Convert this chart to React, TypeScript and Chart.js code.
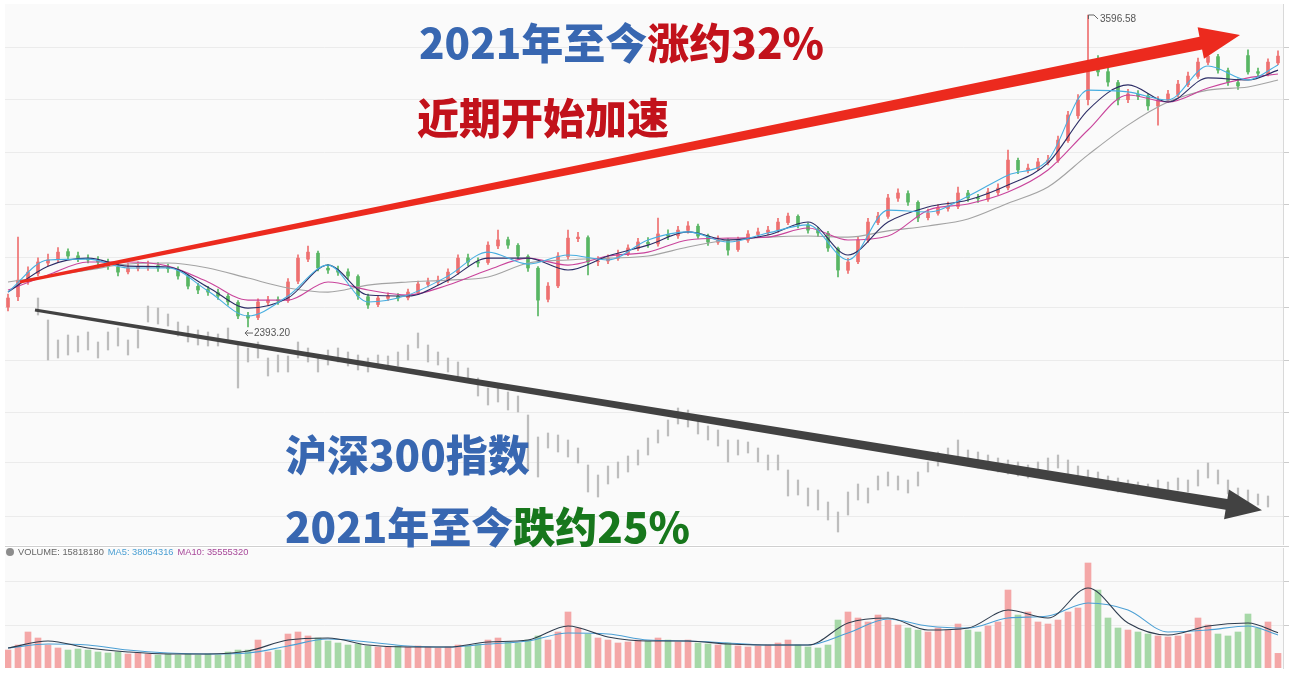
import React, { useEffect, useRef } from "react";
import { Chart, registerables } from "chart.js";

Chart.register(...registerables);

// ---------------- data ----------------
// index price, one candle per slot
const priceOpen = [
  2470, 2510, 2570, 2600, 2640, 2655, 2684, 2668, 2655, 2650,
  2642, 2625, 2606, 2620, 2624, 2630, 2622, 2615, 2588, 2550,
  2538, 2526, 2512, 2488, 2438, 2430, 2488, 2498, 2495, 2570,
  2655, 2678, 2620, 2612, 2606, 2588, 2510, 2480, 2504, 2512,
  2506, 2526, 2558, 2566, 2572, 2603, 2660, 2645, 2642, 2706,
  2730, 2708, 2665, 2620, 2500, 2552, 2665, 2734, 2738, 2645,
  2648, 2658, 2676, 2696, 2720, 2714, 2750, 2745, 2766, 2782,
  2745, 2720, 2728, 2692, 2728, 2750, 2758, 2766, 2796, 2820,
  2786, 2768, 2755, 2696, 2612, 2645, 2728, 2796, 2820, 2890,
  2908, 2874, 2815, 2832, 2850, 2858, 2910, 2892, 2886, 2912,
  2930, 3036, 2998, 3004, 3028, 3036, 3112, 3208, 3270, 3412,
  3378, 3336, 3270, 3290, 3284, 3245, 3268, 3290, 3328, 3360,
  3414, 3436, 3382, 3336, 3440, 3378, 3370, 3412,
];
const priceHigh = [
  2520, 2740, 2625, 2660, 2675, 2700, 2695, 2682, 2672, 2665,
  2655, 2640, 2640, 2645, 2648, 2642, 2636, 2625, 2595, 2562,
  2550, 2540, 2520, 2495, 2450, 2502, 2512, 2510, 2580, 2672,
  2705, 2686, 2635, 2628, 2618, 2595, 2520, 2515, 2525, 2522,
  2540, 2570, 2582, 2590, 2618, 2672, 2675, 2660, 2722, 2767,
  2740, 2715, 2672, 2626, 2565, 2680, 2767, 2758, 2745, 2665,
  2672, 2690, 2710, 2735, 2738, 2813, 2768, 2782, 2800, 2790,
  2752, 2745, 2735, 2740, 2765, 2775, 2782, 2812, 2833, 2826,
  2795, 2778, 2762, 2702, 2658, 2742, 2812, 2836, 2905, 2926,
  2918, 2880, 2848, 2865, 2875, 2933, 2920, 2905, 2928, 2945,
  3076, 3045, 3022, 3044, 3055, 3130, 3225, 3290, 3596.58, 3440,
  3392, 3345, 3310, 3305, 3292, 3282, 3306, 3345, 3376, 3430,
  3462, 3445, 3392, 3350, 3462, 3392, 3428, 3458,
];
const priceLow = [
  2455, 2495, 2558, 2590, 2628, 2645, 2655, 2645, 2640, 2630,
  2615, 2590, 2598, 2610, 2612, 2608, 2604, 2578, 2540, 2522,
  2515, 2500, 2478, 2425, 2393.2, 2422, 2478, 2480, 2488, 2560,
  2645, 2610, 2600, 2592, 2578, 2500, 2465, 2472, 2495, 2494,
  2498, 2518, 2548, 2556, 2565, 2596, 2630, 2625, 2635, 2695,
  2696, 2655, 2608, 2436, 2490, 2545, 2655, 2722, 2594, 2630,
  2638, 2650, 2668, 2688, 2700, 2705, 2730, 2735, 2755, 2735,
  2708, 2712, 2670, 2685, 2720, 2742, 2748, 2758, 2788, 2775,
  2755, 2742, 2685, 2586, 2600, 2638, 2720, 2788, 2812, 2878,
  2862, 2800, 2806, 2825, 2840, 2850, 2878, 2874, 2878, 2902,
  2922, 2985, 2988, 2996, 3018, 3028, 3105, 3198, 3250, 3362,
  3322, 3250, 3258, 3270, 3230, 3172, 3260, 3282, 3320, 3352,
  3405, 3372, 3325, 3310, 3368, 3358, 3362, 3405,
];
const priceClose = [
  2505, 2574, 2605, 2644, 2652, 2682, 2667, 2659, 2652, 2644,
  2628, 2605, 2621, 2625, 2628, 2621, 2618, 2590, 2551, 2536,
  2528, 2513, 2490, 2436, 2428, 2490, 2497, 2494, 2567, 2659,
  2682, 2621, 2613, 2605, 2590, 2513, 2478, 2505, 2513, 2505,
  2528, 2559, 2567, 2574, 2605, 2659, 2644, 2640, 2709, 2729,
  2709, 2667, 2621, 2497, 2551, 2667, 2736, 2740, 2644, 2648,
  2659, 2675, 2698, 2721, 2713, 2752, 2744, 2767, 2783, 2744,
  2721, 2729, 2690, 2729, 2752, 2760, 2767, 2798, 2821, 2787,
  2767, 2756, 2698, 2613, 2644, 2729, 2798, 2821, 2891, 2910,
  2875, 2814, 2833, 2852, 2860, 2910, 2891, 2888, 2914, 2929,
  3037, 2999, 3006, 3030, 3037, 3114, 3211, 3269, 3415, 3377,
  3338, 3269, 3292, 3284, 3246, 3269, 3292, 3330, 3361, 3415,
  3438, 3384, 3338, 3323, 3377, 3372, 3415, 3438,
];

// price moving averages, sampled at these candle slots
const maSlots = [0, 4, 8, 12, 16, 20, 24, 28, 32, 36, 40, 44, 48, 52, 56, 60, 64, 68, 72, 76, 80, 84, 88, 92, 96, 100, 104, 108, 112, 116, 120, 124, 127];
const ma5 = [2528, 2652, 2655, 2621, 2621, 2532, 2436, 2513, 2632, 2490, 2517, 2590, 2682, 2636, 2671, 2652, 2729, 2760, 2721, 2756, 2787, 2652, 2844, 2837, 2898, 2979, 3037, 3307, 3300, 3269, 3400, 3346, 3404];
const ma10 = [2528, 2628, 2659, 2628, 2625, 2547, 2466, 2505, 2632, 2517, 2513, 2574, 2659, 2659, 2613, 2667, 2709, 2760, 2729, 2748, 2798, 2671, 2798, 2856, 2883, 2941, 3026, 3230, 3327, 3261, 3354, 3346, 3384];
const ma20 = [2536, 2594, 2644, 2644, 2628, 2567, 2497, 2497, 2567, 2536, 2517, 2555, 2613, 2659, 2632, 2667, 2682, 2729, 2736, 2740, 2775, 2729, 2744, 2844, 2868, 2914, 2999, 3153, 3288, 3261, 3315, 3354, 3369];
const ma120 = [2567, 2590, 2613, 2636, 2640, 2621, 2582, 2544, 2528, 2555, 2567, 2574, 2586, 2640, 2652, 2659, 2667, 2702, 2729, 2740, 2744, 2740, 2764, 2783, 2810, 2871, 2933, 3057, 3172, 3261, 3307, 3319, 3346];

// CSI 300 (grey bars), low / high per slot
const csiLow = [
  null, null, null, 5720, 5180, 5204, 5240, 5276, 5300, 5204,
  5300, 5348, 5240, 5324, 5636, 5612, 5588, 5468, 5396, 5360,
  5348, 5348, 5396, 4844, 5156, 5204, 4988, 5036, 5036, 5204,
  5156, 5036, 5120, 5156, 5108, 5060, 5036, 5084, 5060, 5108,
  5180, 5324, 5156, 5120, 5036, 4988, 4940, 4748, 4640, 4676,
  4580, 4556, 3860, 3776, 4124, 4076, 4016, 3944, 3596, 3536,
  3692, 3764, 3836, 3920, 4040, 4184, 4268, 4412, 4376, 4292,
  4220, 4148, 3956, 4040, 4064, 3956, 3860, 3860, 3548, 3560,
  3428, 3380, 3260, 3116, 3320, 3500, 3464, 3620, 3668, 3620,
  3584, 3668, 3836, 3908, 3980, 4028, 3908, 3884, 3860, 3836,
  3812, 3788, 3764, 3812, 3860, 3884, 3812, 3740, 3692, 3668,
  3620, 3596, 3584, 3560, 3548, 3572, 3572, 3620, 3596, 3668,
  3764, 3692, 3572, 3500, 3476, 3440, 3416, null,
];
const csiHigh = [
  null, null, null, 5924, 5660, 5420, 5480, 5468, 5516, 5396,
  5516, 5564, 5420, 5540, 5828, 5804, 5732, 5636, 5588, 5540,
  5516, 5492, 5564, 5360, 5324, 5396, 5204, 5240, 5228, 5396,
  5324, 5240, 5300, 5324, 5276, 5240, 5204, 5240, 5228, 5276,
  5360, 5504, 5360, 5276, 5204, 5156, 5084, 4964, 4844, 4844,
  4796, 4748, 4520, 4256, 4304, 4280, 4220, 4124, 3920, 3800,
  3908, 3956, 4028, 4100, 4244, 4340, 4460, 4604, 4580, 4484,
  4388, 4340, 4220, 4220, 4196, 4124, 4040, 4040, 3860, 3740,
  3644, 3620, 3476, 3356, 3596, 3692, 3644, 3788, 3836, 3788,
  3740, 3836, 3956, 4076, 4124, 4220, 4100, 4076, 4040, 4004,
  3980, 3956, 3920, 3956, 4004, 4040, 3980, 3908, 3860, 3836,
  3788, 3764, 3740, 3716, 3692, 3740, 3716, 3764, 3740, 3860,
  3944, 3860, 3740, 3644, 3620, 3572, 3548, null,
];

// volume, millions
const volume = [
  19.4, 24.8, 38.9, 32.4, 24.8, 21.6, 19.4, 20.5, 19.4, 17.3,
  16.2, 17.3, 15.1, 16.2, 15.1, 14.0, 15.1, 14.0, 15.1, 14.0,
  15.1, 14.0, 17.3, 19.4, 19.4, 30.2, 17.3, 19.4, 36.7, 38.9,
  34.6, 32.4, 29.2, 27.0, 24.8, 25.9, 23.8, 22.7, 22.7, 23.8,
  22.7, 23.8, 22.7, 21.6, 22.7, 24.8, 23.8, 25.9, 30.2, 32.4,
  28.1, 27.0, 30.2, 34.6, 30.2, 38.9, 60.5, 43.2, 36.7, 32.4,
  30.2, 27.0, 28.1, 30.2, 29.2, 32.4, 30.2, 28.1, 30.2, 27.0,
  25.9, 24.8, 27.0, 23.8, 22.7, 23.8, 24.8, 27.0, 30.2, 24.8,
  22.7, 21.6, 24.8, 51.8, 60.5, 54.0, 49.7, 57.2, 51.8, 46.4,
  43.2, 41.0, 38.9, 43.2, 41.0, 47.5, 41.0, 38.9, 45.4, 49.7,
  84.2, 57.2, 60.5, 49.7, 47.5, 51.8, 60.5, 64.8, 113.4, 84.2,
  54.0, 43.2, 41.0, 38.9, 36.7, 34.6, 33.5, 34.6, 36.7, 54.0,
  46.4, 36.7, 34.6, 38.9, 58.3, 43.2, 49.7, 15.8,
];
const volMa5 = [21.6, 29.2, 21.6, 17.3, 15.1, 15.1, 18.4, 30.2, 32.4, 24.8, 22.7, 22.7, 28.1, 30.2, 45.4, 33.5, 29.2, 29.2, 25.9, 24.8, 24.8, 48.6, 54.0, 41.0, 43.2, 62.6, 54.0, 86.4, 48.6, 35.6, 45.4, 48.6, 38.1];
const volMa10 = [21.6, 25.9, 24.8, 19.4, 16.2, 15.1, 16.2, 23.8, 31.3, 28.1, 23.8, 22.7, 25.9, 29.2, 37.8, 36.7, 30.2, 29.2, 27.0, 24.8, 24.8, 37.8, 52.9, 45.4, 43.2, 54.0, 56.2, 70.2, 62.6, 38.9, 41.0, 45.4, 35.6];

// horizontal grid levels (price axis / volume axis)
const priceGrid = [1664, 1869, 2065, 2266, 2467, 2663, 2864, 3068, 3269, 3473];
const volumeGrid = [46.4, 92.9];

// header texts
const volumeHeader = { volume: "15818180", ma5: "38054316", ma10: "35555320" };

// trend arrows, in data units (slot, value)
const upArrow = { from: [1.2, 2567], to: [123.2, 3519] };
const downArrow = { from: [2.7, 2459], to: [125.4, 1687] };

// ---------------- styles ----------------
const UP = "#ee7070";
const DOWN = "#58b663";
const VOL_UP = "#f4a7a7";
const VOL_DOWN = "#a6d8a7";

const candleColor = priceClose.map((c, i) => (c >= priceOpen[i] ? UP : DOWN));
const volColor = priceClose.map((c, i) => (c >= priceOpen[i] ? VOL_UP : VOL_DOWN));

const X_MIN = -0.3;
const X_MAX = 127.5;

function drawTaperArrow(ctx: CanvasRenderingContext2D, x0: number, y0: number, x1: number, y1: number, tail: number, shaft: number, headW: number, headL: number, color: string) {
  const dx = x1 - x0;
  const dy = y1 - y0;
  const len = Math.hypot(dx, dy);
  const ux = dx / len, uy = dy / len;
  const nx = -uy, ny = ux;
  const bx = x1 - ux * headL, by = y1 - uy * headL;
  ctx.beginPath();
  ctx.moveTo(x0 + (nx * tail) / 2, y0 + (ny * tail) / 2);
  ctx.lineTo(bx + (nx * shaft) / 2, by + (ny * shaft) / 2);
  ctx.lineTo(bx + (nx * headW) / 2, by + (ny * headW) / 2);
  ctx.lineTo(x1, y1);
  ctx.lineTo(bx - (nx * headW) / 2, by - (ny * headW) / 2);
  ctx.lineTo(bx - (nx * shaft) / 2, by - (ny * shaft) / 2);
  ctx.lineTo(x0 - (nx * tail) / 2, y0 - (ny * tail) / 2);
  ctx.closePath();
  ctx.fillStyle = color;
  ctx.fill();
}

const areaBg = {
  id: "areaBg",
  beforeDraw(chart: any) {
    const { ctx, chartArea: a } = chart;
    ctx.save();
    ctx.fillStyle = "#fafafa";
    ctx.fillRect(a.left, a.top, a.right - a.left, a.bottom - a.top);
    ctx.restore();
  },
};

const mainOverlay = {
  id: "mainOverlay",
  afterDatasetsDraw(chart: any) {
    const { ctx } = chart;
    const xs = chart.scales.x;
    const ys = chart.scales.y;
    ctx.save();
    // extreme labels
    let hi = 0, lo = 0;
    priceHigh.forEach((v, i) => { if (v > priceHigh[hi]) hi = i; });
    priceLow.forEach((v, i) => { if (v < priceLow[lo]) lo = i; });
    ctx.strokeStyle = "#666";
    ctx.fillStyle = "#555";
    ctx.lineWidth = 1;
    ctx.font = "10px 'Liberation Sans', Arial, sans-serif";
    ctx.textBaseline = "middle";
    const hx = xs.getPixelForValue(hi);
    const hy = ys.getPixelForValue(priceHigh[hi]);
    ctx.beginPath();
    ctx.moveTo(hx + 0.5, hy + 4);
    ctx.lineTo(hx + 0.5, hy);
    ctx.lineTo(hx + 6, hy);
    ctx.lineTo(hx + 10, hy + 4);
    ctx.stroke();
    ctx.fillText(priceHigh[hi].toFixed(2), hx + 12, hy + 4);
    const lx = xs.getPixelForValue(lo);
    const ly = ys.getPixelForValue(priceLow[lo]);
    ctx.beginPath();
    ctx.moveTo(lx - 3, ly + 6);
    ctx.lineTo(lx + 5, ly + 6);
    ctx.moveTo(lx - 3, ly + 6);
    ctx.lineTo(lx, ly + 3);
    ctx.moveTo(lx - 3, ly + 6);
    ctx.lineTo(lx, ly + 9);
    ctx.stroke();
    ctx.fillText(priceLow[lo].toFixed(2), lx + 6, ly + 6);
    // arrows
    drawTaperArrow(ctx,
      xs.getPixelForValue(downArrow.from[0]), ys.getPixelForValue(downArrow.from[1]),
      xs.getPixelForValue(downArrow.to[0]), ys.getPixelForValue(downArrow.to[1]),
      3, 11, 30, 36, "#424242");
    drawTaperArrow(ctx,
      xs.getPixelForValue(upArrow.from[0]), ys.getPixelForValue(upArrow.from[1]),
      xs.getPixelForValue(upArrow.to[0]), ys.getPixelForValue(upArrow.to[1]),
      3, 13, 32, 40, "#ec2a1e");
    ctx.restore();
  },
};

const volOverlay = {
  id: "volOverlay",
  afterDraw(chart: any) {
    const { ctx } = chart;
    ctx.save();
    ctx.strokeStyle = "#cfcfcf";
    ctx.lineWidth = 1;
    ctx.beginPath();
    ctx.moveTo(5, 2.5);
    ctx.lineTo(chart.width, 2.5);
    ctx.stroke();
    ctx.restore();
  },
};

const lineDs = (label: string, values: number[], color: string, order: number, width = 1.1) => ({
  type: "line" as const,
  label,
  data: maSlots.map((x, k) => ({ x, y: values[k] })),
  borderColor: color,
  borderWidth: width,
  pointRadius: 0,
  cubicInterpolationMode: "monotone" as const,
  order,
});

function mainConfig(): any {
  return {
    type: "bar",
    data: {
      datasets: [
        lineDs("MA5", ma5, "#47aee0", 1),
        lineDs("MA10", ma10, "#2c2d66", 2),
        lineDs("MA20", ma20, "#c9449b", 3),
        lineDs("MA120", ma120, "#a3a3a3", 4),
        {
          type: "bar",
          label: "body",
          data: priceClose.map((c, i) => ({ x: i, y: [priceOpen[i], c] })),
          backgroundColor: candleColor,
          barThickness: 3,
          grouped: false,
          order: 5,
        },
        {
          type: "bar",
          label: "wick",
          data: priceClose.map((_, i) => ({ x: i, y: [priceLow[i], priceHigh[i]] })),
          backgroundColor: candleColor,
          barThickness: 1,
          grouped: false,
          order: 6,
        },
        {
          type: "bar",
          label: "沪深300",
          yAxisID: "y2",
          data: csiLow.flatMap((l, i) => (l == null || csiHigh[i] == null ? [] : [{ x: i, y: [l, csiHigh[i]] }])),
          backgroundColor: "#bdbdbd",
          barThickness: 1.6,
          grouped: false,
          order: 10,
        },
      ],
    },
    options: {
      responsive: false,
      animation: false,
      devicePixelRatio: 1,
      events: [],
      layout: { padding: { left: 5, top: 4, right: 0, bottom: 0 } },
      plugins: { legend: { display: false }, tooltip: { enabled: false } },
      scales: {
        x: { type: "linear", min: X_MIN, max: X_MAX, display: false, offset: false },
        y: {
          position: "right",
          min: 1552.6,
          max: 3639,
          afterBuildTicks: (axis: any) => { axis.ticks = priceGrid.map((v) => ({ value: v })); },
          ticks: { display: false },
          grid: { color: "#ebebeb", tickColor: "#cccccc", tickLength: 6 },
          border: { display: true, color: "#d9d9d9" },
        },
        y2: { display: false, min: 2960, max: 9452 },
      },
    },
    plugins: [areaBg, mainOverlay],
  };
}

function volConfig(): any {
  return {
    type: "bar",
    data: {
      datasets: [
        {
          type: "line",
          label: "MA5",
          data: maSlots.map((x, k) => ({ x, y: volMa5[k] })),
          borderColor: "#2e3c4e",
          borderWidth: 1.1,
          pointRadius: 0,
          cubicInterpolationMode: "monotone",
          order: 1,
        },
        {
          type: "line",
          label: "MA10",
          data: maSlots.map((x, k) => ({ x, y: volMa10[k] })),
          borderColor: "#4b9fd4",
          borderWidth: 1.1,
          pointRadius: 0,
          cubicInterpolationMode: "monotone",
          order: 2,
        },
        {
          type: "bar",
          label: "VOLUME",
          data: volume.map((v, i) => ({ x: i, y: v })),
          backgroundColor: volColor,
          barThickness: 6,
          grouped: false,
          order: 3,
        },
      ],
    },
    options: {
      responsive: false,
      animation: false,
      devicePixelRatio: 1,
      events: [],
      layout: { padding: { left: 5, top: 4, right: 0, bottom: 7 } },
      plugins: { legend: { display: false }, tooltip: { enabled: false } },
      scales: {
        x: { type: "linear", min: X_MIN, max: X_MAX, display: false, offset: false },
        y: {
          position: "right",
          min: 0,
          max: 129.6,
          afterBuildTicks: (axis: any) => { axis.ticks = volumeGrid.map((v) => ({ value: v })); },
          ticks: { display: false },
          grid: { color: "#ebebeb", tickColor: "#cccccc", tickLength: 6 },
          border: { display: true, color: "#d9d9d9" },
        },
      },
    },
    plugins: [areaBg, volOverlay],
  };
}

const CJK = "'Noto Sans CJK SC', 'Noto Sans', sans-serif";
const BLUE = "#3867b1";
const RED = "#c2121b";
const GREEN = "#17771c";

const bigText: React.CSSProperties = {
  position: "absolute",
  fontFamily: CJK,
  fontWeight: 900,
  fontSize: 42,
  lineHeight: "42px",
  whiteSpace: "nowrap",
};

export default function App() {
  const mainRef = useRef<HTMLCanvasElement>(null);
  const volRef = useRef<HTMLCanvasElement>(null);

  useEffect(() => {
    const main = new Chart(mainRef.current as HTMLCanvasElement, mainConfig());
    const vol = new Chart(volRef.current as HTMLCanvasElement, volConfig());
    return () => {
      main.destroy();
      vol.destroy();
    };
  }, []);

  return (
    <div style={{ position: "absolute", left: 0, top: 0, width: 1289, height: 675, background: "#ffffff", overflow: "hidden" }}>
      <canvas ref={mainRef} width={1289} height={545} style={{ position: "absolute", left: 0, top: 0 }} />
      <canvas ref={volRef} width={1289} height={131} style={{ position: "absolute", left: 0, top: 544 }} />

      <div style={{ ...bigText, left: 419, top: 20 }}>
        <span style={{ color: BLUE }}>2021年至今</span>
        <span style={{ color: RED }}>涨约32%</span>
      </div>
      <div style={{ ...bigText, left: 417, top: 95, color: RED }}>近期开始加速</div>
      <div style={{ ...bigText, left: 285, top: 432, color: BLUE }}>沪深300指数</div>
      <div style={{ ...bigText, left: 285, top: 504 }}>
        <span style={{ color: BLUE }}>2021年至今</span>
        <span style={{ color: GREEN }}>跌约25%</span>
      </div>

      <div
        style={{
          position: "absolute",
          left: 6,
          top: 546,
          fontFamily: "'Liberation Sans', Arial, sans-serif",
          fontSize: 9.3,
          lineHeight: "12px",
          whiteSpace: "nowrap",
          display: "flex",
          alignItems: "center",
        }}
      >
        <span style={{ display: "inline-block", width: 8, height: 8, borderRadius: 4, background: "#8c8c8c", marginRight: 4 }} />
        <span style={{ color: "#666" }}>VOLUME: {volumeHeader.volume}</span>
        <span style={{ color: "#4a9fd3", marginLeft: 4 }}>MA5: {volumeHeader.ma5}</span>
        <span style={{ color: "#a8489a", marginLeft: 4 }}>MA10: {volumeHeader.ma10}</span>
      </div>
    </div>
  );
}
